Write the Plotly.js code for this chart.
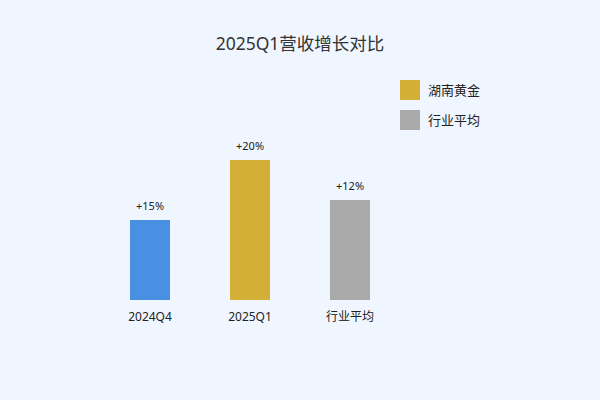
<!DOCTYPE html>
<html>
<head>
<meta charset="utf-8">
<script src="https://cdn.plot.ly/plotly-3.0.1.min.js"></script>
<style>html,body{margin:0;padding:0;background:#f0f6ff;}#chart{width:600px;height:400px;}</style>
</head>
<body>
<div id="chart"></div>
<script>
const categories = ['2024Q4', '2025Q1', '行业平均'];
const barHeights = [8, 14, 10];
const growthLabels = ['+15%', '+20%', '+12%'];
const barColors = ['#4a90e2', '#d4af37', '#aaaaaa'];
const legendNames = ['湖南黄金', '行业平均'];
const legendColors = ['#d4af37', '#aaaaaa'];

const FONT = '"Noto Sans", "Noto Sans CJK SC", sans-serif';

const trace = {
  type: 'bar',
  x: categories,
  y: barHeights,
  marker: {color: barColors},
  width: 0.4,
  hoverinfo: 'none',
  showlegend: false
};

const annotations = categories.map((c, i) => ({
  x: c, y: barHeights[i], xref: 'x', yref: 'y',
  text: growthLabels[i], showarrow: false,
  yanchor: 'bottom', yshift: 5,
  font: {family: FONT, size: 11, color: '#222222'}
}));

const shapes = [];
legendNames.forEach((name, i) => {
  const top = 1.1 - i * 0.15;
  shapes.push({
    type: 'rect', xref: 'paper', yref: 'paper',
    x0: 1.0, x1: 1.0667, y0: top - 0.1, y1: top,
    fillcolor: legendColors[i], line: {width: 0}
  });
  annotations.push({
    xref: 'paper', yref: 'paper', x: 1.087, y: top - 0.05,
    xanchor: 'left', yanchor: 'middle', showarrow: false,
    text: name, font: {family: FONT, size: 13, color: '#222222'}
  });
});

const layout = {
  width: 600, height: 400,
  paper_bgcolor: '#f0f6ff', plot_bgcolor: '#f0f6ff',
  margin: {l: 100, r: 200, t: 100, b: 100},
  title: {text: '2025Q1营收增长对比', x: 0.5, xanchor: 'center', y: 0.89, yanchor: 'middle',
          font: {family: FONT, size: 17.5, color: '#333333'}},
  xaxis: {type: 'category', range: [-0.5, 2.5], showgrid: false, zeroline: false, showline: false,
          ticks: '', ticklabelstandoff: 8, tickfont: {family: FONT, size: 12, color: '#222222'}, fixedrange: true},
  yaxis: {range: [0, 20], showgrid: false, zeroline: false, showline: false, showticklabels: false,
          ticks: '', fixedrange: true},
  bargap: 0.6,
  showlegend: false,
  annotations: annotations,
  shapes: shapes,
  font: {family: FONT}
};

Plotly.newPlot('chart', [trace], layout, {displayModeBar: false, staticPlot: true});
</script>
</body>
</html>
